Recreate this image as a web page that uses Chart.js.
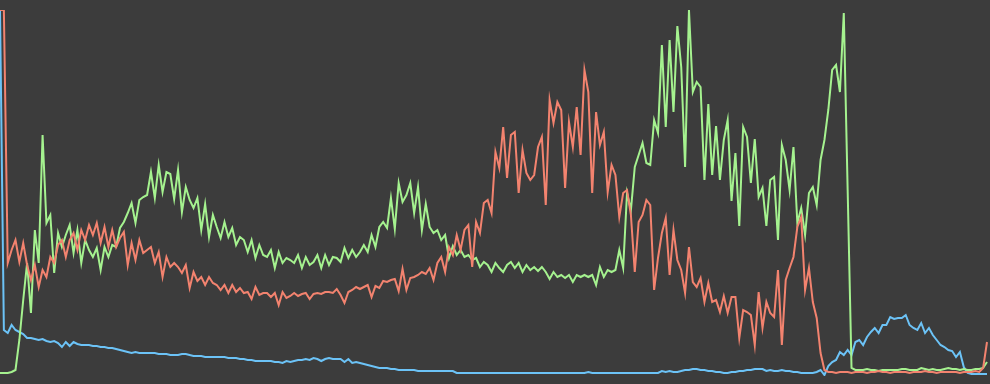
<!DOCTYPE html>
<html>
<head>
<meta charset="utf-8">
<script src="https://cdn.jsdelivr.net/npm/chart.js@4/dist/chart.umd.min.js"></script>
<style>
  html, body { margin: 0; padding: 0; background: #3c3c3c; }
  #wrap { width: 990px; height: 384px; position: relative; }
</style>
</head>
<body>
<div id="wrap"><canvas id="c"></canvas></div>
<script>
// Histogram bins (0..255)
const bins = Array.from({ length: 256 }, (_, i) => i);

const redValues = [
  366,366,113,126,136,114,133,111,96,111,89,106,99,119,113,131,
  136,119,136,143,126,146,136,151,141,153,133,149,129,146,129,138,
  144,111,133,116,136,123,126,129,113,124,99,119,109,113,109,103,
  111,88,104,95,99,91,99,93,91,86,91,83,91,84,88,83,
  84,77,89,81,83,83,79,83,71,84,78,80,83,80,82,83,
  77,82,83,82,84,84,83,87,81,73,84,86,89,87,89,91,
  79,90,88,95,94,96,97,85,107,86,98,99,101,104,102,108,
  96,113,119,104,129,121,141,126,146,151,109,154,143,173,176,163,
  224,208,249,198,241,244,183,226,203,196,201,229,239,171,276,253,
  274,266,188,254,229,269,221,306,284,183,264,231,244,184,211,201,
  159,183,186,161,104,154,161,176,171,86,118,143,158,101,146,116,
  106,83,129,94,89,98,74,93,74,76,64,80,63,79,79,38,
  66,64,61,31,84,48,74,63,59,106,31,96,108,119,149,159,
  86,108,74,58,23,6,4,4,3,4,4,4,3,4,4,4,
  3,4,4,5,4,4,3,4,4,4,4,3,4,4,4,5,
  4,4,3,4,4,4,4,4,3,4,4,4,5,4,8,34
];

const greenValues = [
  3,3,3,4,6,36,76,113,63,146,113,241,153,161,103,143,
  129,141,151,123,146,113,136,126,119,128,106,129,119,131,129,148,
  154,163,173,153,176,179,181,204,178,211,184,204,202,177,206,164,
  189,176,168,178,146,172,139,161,149,138,154,139,148,131,139,136,
  124,136,118,131,121,119,126,108,124,113,118,116,113,121,108,119,
  111,114,121,108,121,111,119,118,114,128,118,126,119,124,131,124,
  141,129,149,154,148,178,147,193,174,181,193,163,189,146,172,149,
  143,146,136,141,118,130,121,126,119,121,116,118,109,114,111,104,
  113,108,104,111,114,108,113,104,111,106,109,105,109,104,97,104,
  99,101,98,101,94,101,99,101,99,101,91,109,99,106,104,106,
  126,108,183,166,209,221,233,213,211,256,243,331,249,336,264,350,
  309,209,366,284,294,289,196,272,201,250,196,236,256,175,223,150,
  249,239,193,237,179,188,150,196,199,136,231,216,186,229,153,168,
  141,183,189,171,216,236,266,306,311,284,363,186,8,6,6,6,
  7,6,6,5,6,6,6,6,6,7,7,6,6,6,8,7,
  6,7,6,6,7,8,7,7,6,7,6,6,7,7,8,14
];

const blueValues = [
  366,46,43,51,46,44,42,38,38,37,36,37,35,34,35,33,
  29,34,30,34,32,31,31,31,30,30,29,29,28,28,27,26,
  25,24,23,24,23,23,23,23,23,22,22,22,21,21,21,22,
  22,21,20,20,20,19,19,19,19,19,19,18,18,18,17,17,
  16,16,15,15,15,15,15,14,14,13,15,14,15,16,16,17,
  16,18,17,15,17,18,17,17,17,14,17,13,14,13,12,11,
  10,9,8,8,8,7,7,6,6,6,6,6,5,5,5,5,
  5,5,5,5,5,5,3,3,3,3,3,3,3,3,3,3,
  3,3,3,3,3,3,3,3,3,3,3,3,3,3,3,3,
  3,3,3,3,3,3,3,3,4,3,3,3,3,3,3,3,
  3,3,3,3,3,3,3,3,3,3,3,5,4,5,4,4,
  5,6,6,7,7,6,6,5,5,4,4,3,3,4,4,5,
  5,6,6,7,7,7,5,6,5,5,6,5,5,4,4,3,
  3,3,3,4,6,1,10,14,16,24,21,26,21,34,36,31,
  39,44,48,43,51,51,59,57,58,58,61,51,48,46,53,43,
  48,41,36,31,29,26,25,19,24,9,3,2,2,2,2,2
];

const yMax = 366;

const lineStyle = (label, data, color, order) => ({
  label, data,
  borderColor: color,
  backgroundColor: color,
  borderWidth: 2,
  pointRadius: 0,
  pointHoverRadius: 0,
  tension: 0,
  fill: false,
  order
});

new Chart(document.getElementById('c'), {
  type: 'line',
  data: {
    labels: bins,
    datasets: [
      lineStyle('Red', redValues, '#f3836f', 1),
      lineStyle('Green', greenValues, '#a5f28f', 2),
      lineStyle('Blue', blueValues, '#6cc3f7', 3)
    ]
  },
  options: {
    responsive: true,
    maintainAspectRatio: false,
    animation: false,
    layout: { padding: { top: 10, bottom: 8, left: 0, right: 3 } },
    plugins: { legend: { display: false }, tooltip: { enabled: false } },
    scales: {
      x: { display: false, offset: false },
      y: { display: false, min: 0, max: yMax }
    }
  }
});
</script>
</body>
</html>
